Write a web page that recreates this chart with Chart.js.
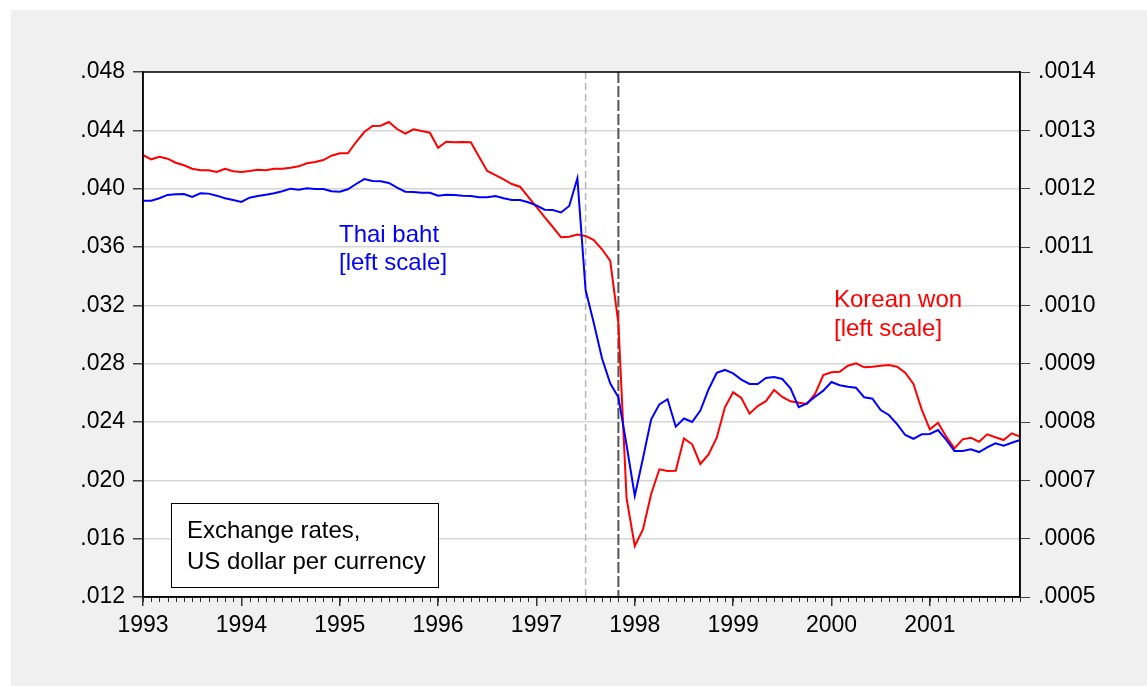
<!DOCTYPE html>
<html>
<head>
<meta charset="utf-8">
<script src="https://cdn.jsdelivr.net/npm/chart.js@4"></script>
<style>
  html, body { margin: 0; padding: 0; background: #fff; }
  #wrap { width: 1147px; height: 686px; }
</style>
</head>
<body>
<div id="wrap"><canvas id="myChart" width="1147" height="686"></canvas></div>
<script>
// monthly, Jan 1993 .. Dec 2001
const years = [1993, 1994, 1995, 1996, 1997, 1998, 1999, 2000, 2001];
const months = [];
years.forEach(y => {
    for (let m = 1; m <= 12; m++) months.push(y + '-' + String(m).padStart(2, '0'));
});

// US dollar per baht (left scale)
const thaiBaht = [
    0.03918, 0.03918, 0.03934, 0.03957, 0.03961, 0.03963, 0.03943, 0.03968, 0.03966, 0.03952, 0.03934, 0.03922,
    0.03909, 0.03938, 0.03950, 0.03959, 0.03968, 0.03982, 0.04000, 0.03993, 0.04003, 0.03998, 0.03998, 0.03982,
    0.03979, 0.03996, 0.04032, 0.04066, 0.04053, 0.04051, 0.04039, 0.04007, 0.03979, 0.03977, 0.03972, 0.03972,
    0.03952, 0.03959, 0.03957, 0.03952, 0.03950, 0.03941, 0.03941, 0.03950, 0.03934, 0.03922, 0.03922, 0.03907,
    0.03886, 0.03856, 0.03854, 0.03837, 0.03881, 0.04071, 0.03305, 0.03079, 0.02837, 0.02665, 0.02569, 0.02242,
    0.01893, 0.02151, 0.02419, 0.02521, 0.02556, 0.02368, 0.02424, 0.02400, 0.02478, 0.02623, 0.02738, 0.02757,
    0.02733, 0.02691, 0.02661, 0.02661, 0.02702, 0.02709, 0.02695, 0.02631, 0.02501, 0.02528, 0.02573, 0.02615,
    0.02674, 0.02652, 0.02642, 0.02635, 0.02569, 0.02560, 0.02482, 0.02448, 0.02386, 0.02311, 0.02285, 0.02316,
    0.02318, 0.02345, 0.02277, 0.02201, 0.02201, 0.02213, 0.02194, 0.02226, 0.02254, 0.02238, 0.02258, 0.02277
];

// US dollar per won (right scale)
const koreanWon = [
    0.0012577, 0.0012503, 0.0012548, 0.0012514, 0.0012445, 0.0012401, 0.0012342, 0.0012315, 0.0012315, 0.0012286, 0.0012342, 0.0012298,
    0.0012286, 0.0012303, 0.0012325, 0.0012315, 0.0012342, 0.0012342, 0.0012359, 0.0012383, 0.0012435, 0.0012457, 0.0012491, 0.0012565,
    0.0012606, 0.0012606, 0.0012800, 0.0012971, 0.0013074, 0.0013079, 0.0013143, 0.0013023, 0.0012942, 0.0013018, 0.0012989, 0.0012959,
    0.0012702, 0.0012805, 0.0012795, 0.0012800, 0.0012795, 0.0012548, 0.0012303, 0.0012234, 0.0012160, 0.0012080, 0.0012034, 0.0011860,
    0.0011686, 0.0011514, 0.0011343, 0.0011166, 0.0011177, 0.0011214, 0.0011189, 0.0011120, 0.0010961, 0.0010765, 0.0009692, 0.0006692,
    0.0005874, 0.0006157, 0.0006766, 0.0007189, 0.0007160, 0.0007165, 0.0007720, 0.0007618, 0.0007280, 0.0007443, 0.0007731, 0.0008252,
    0.0008509, 0.0008411, 0.0008142, 0.0008274, 0.0008357, 0.0008549, 0.0008429, 0.0008355, 0.0008331, 0.0008309, 0.0008480, 0.0008806,
    0.0008852, 0.0008862, 0.0008965, 0.0009006, 0.0008938, 0.0008948, 0.0008965, 0.0008977, 0.0008948, 0.0008845, 0.0008651, 0.0008218,
    0.0007875, 0.0007988, 0.0007748, 0.0007549, 0.0007703, 0.0007731, 0.0007662, 0.0007789, 0.0007738, 0.0007691, 0.0007806, 0.0007748
];

// dashed markers: baht float (Jul 1997) and won crisis (Nov 1997)
const floatMonth = '1997-07';
const crisisMonth = '1997-11';

const FONT = "'Liberation Sans', Arial, sans-serif";

const bgPlugin = {
    id: 'bg',
    beforeDraw(chart) {
        const c = chart.ctx, a = chart.chartArea;
        c.save();
        c.fillStyle = '#ffffff';
        c.fillRect(0, 0, chart.width, chart.height);
        c.fillStyle = '#f0f0f0';
        c.fillRect(11, 10, chart.width - 11, chart.height - 10);
        c.fillStyle = '#ffffff';
        c.fillRect(a.left, a.top, a.right - a.left, a.bottom - a.top);
        c.restore();
    },
    beforeDatasetsDraw(chart) {
        const c = chart.ctx, a = chart.chartArea, x = chart.scales.x;
        c.save();
        // light dashed line
        c.strokeStyle = '#b4b4b4';
        c.lineWidth = 1.5;
        c.setLineDash([7, 4]);
        let px = x.getPixelForValue(months.indexOf(floatMonth));
        c.beginPath(); c.moveTo(px, a.top); c.lineTo(px, a.bottom); c.stroke();
        // dark dashed line
        c.strokeStyle = '#555555';
        c.lineWidth = 2;
        c.setLineDash([11, 3]);
        px = x.getPixelForValue(months.indexOf(crisisMonth));
        c.beginPath(); c.moveTo(px, a.top); c.lineTo(px, a.bottom); c.stroke();
        c.restore();
    },
    afterDraw(chart) {
        const c = chart.ctx, a = chart.chartArea, x = chart.scales.x;
        c.save();
        // minor month ticks
        c.strokeStyle = '#333';
        c.lineWidth = 1;
        for (let i = 0; i < months.length; i++) {
            const px = Math.round(x.getPixelForValue(i)) + 0.5;
            c.beginPath(); c.moveTo(px, a.bottom); c.lineTo(px, a.bottom + 5); c.stroke();
        }
        // frame
        c.strokeStyle = '#000';
        c.lineWidth = 1.5;
        c.strokeRect(a.left, a.top, a.right - a.left, a.bottom - a.top);

        // series labels
        c.font = '24px ' + FONT;
        c.textBaseline = 'alphabetic';
        c.textAlign = 'left';
        c.fillStyle = '#0000ff';
        c.fillText('Thai baht', 339, 242);
        c.fillText('[left scale]', 339, 270);
        c.fillStyle = '#ff0000';
        c.fillText('Korean won', 834, 307);
        c.fillText('[left scale]', 834, 336);

        // note box
        c.fillStyle = '#ffffff';
        c.fillRect(171, 503, 267, 84);
        c.strokeStyle = '#000';
        c.lineWidth = 1;
        c.strokeRect(171.5, 503.5, 267, 84);
        c.fillStyle = '#000';
        c.fillText('Exchange rates,', 187, 538);
        c.fillText('US dollar per currency', 187, 569);
        c.restore();
    }
};

new Chart(document.getElementById('myChart'), {
    type: 'line',
    data: {
        labels: months,
        datasets: [
            {
                label: 'Thai baht',
                data: thaiBaht,
                yAxisID: 'y',
                borderColor: '#0000ff',
                borderWidth: 2,
                pointRadius: 0,
                tension: 0
            },
            {
                label: 'Korean won',
                data: koreanWon,
                yAxisID: 'y1',
                borderColor: '#ff0000',
                borderWidth: 2,
                pointRadius: 0,
                tension: 0
            }
        ]
    },
    options: {
        responsive: false,
        animation: false,
        devicePixelRatio: 1,
        layout: { padding: { top: 72, left: 0, right: 0, bottom: 0 } },
        plugins: {
            legend: { display: false },
            tooltip: { enabled: false }
        },
        scales: {
            x: {
                type: 'category',
                offset: false,
                afterFit: s => { s.height = 89; },
                grid: {
                    drawOnChartArea: false,
                    tickLength: 9,
                    lineWidth: 1.5,
                    tickColor: ctx => months[ctx.index] && months[ctx.index].endsWith('-01') ? '#333' : 'rgba(0,0,0,0)'
                },
                border: { display: true, color: '#000', width: 1.5 },
                ticks: {
                    autoSkip: false,
                    maxRotation: 0,
                    padding: 6,
                    color: '#000',
                    font: { family: FONT, size: 23 },
                    callback: (v, i) => months[i].endsWith('-01') ? months[i].slice(0, 4) : ''
                }
            },
            y: {
                position: 'left',
                min: 0.012,
                max: 0.048,
                afterFit: s => { s.width = 143; },
                grid: {
                    color: '#d6d6d6',
                    lineWidth: 1.5,
                    tickLength: 10,
                    tickColor: '#444'
                },
                border: { display: true, color: '#000', width: 1.5 },
                ticks: {
                    stepSize: 0.004,
                    padding: 8,
                    color: '#000',
                    font: { family: FONT, size: 23 },
                    callback: v => v.toFixed(3).replace(/^0/, '')
                }
            },
            y1: {
                position: 'right',
                min: 0.0005,
                max: 0.0014,
                afterFit: s => { s.width = 127; },
                grid: {
                    drawOnChartArea: false,
                    tickLength: 10,
                    tickColor: '#444'
                },
                border: { display: true, color: '#000', width: 1.5 },
                ticks: {
                    stepSize: 0.0001,
                    padding: 8,
                    color: '#000',
                    font: { family: FONT, size: 23 },
                    callback: v => v.toFixed(4).replace(/^0/, '')
                }
            }
        }
    },
    plugins: [bgPlugin]
});
</script>
</body>
</html>
